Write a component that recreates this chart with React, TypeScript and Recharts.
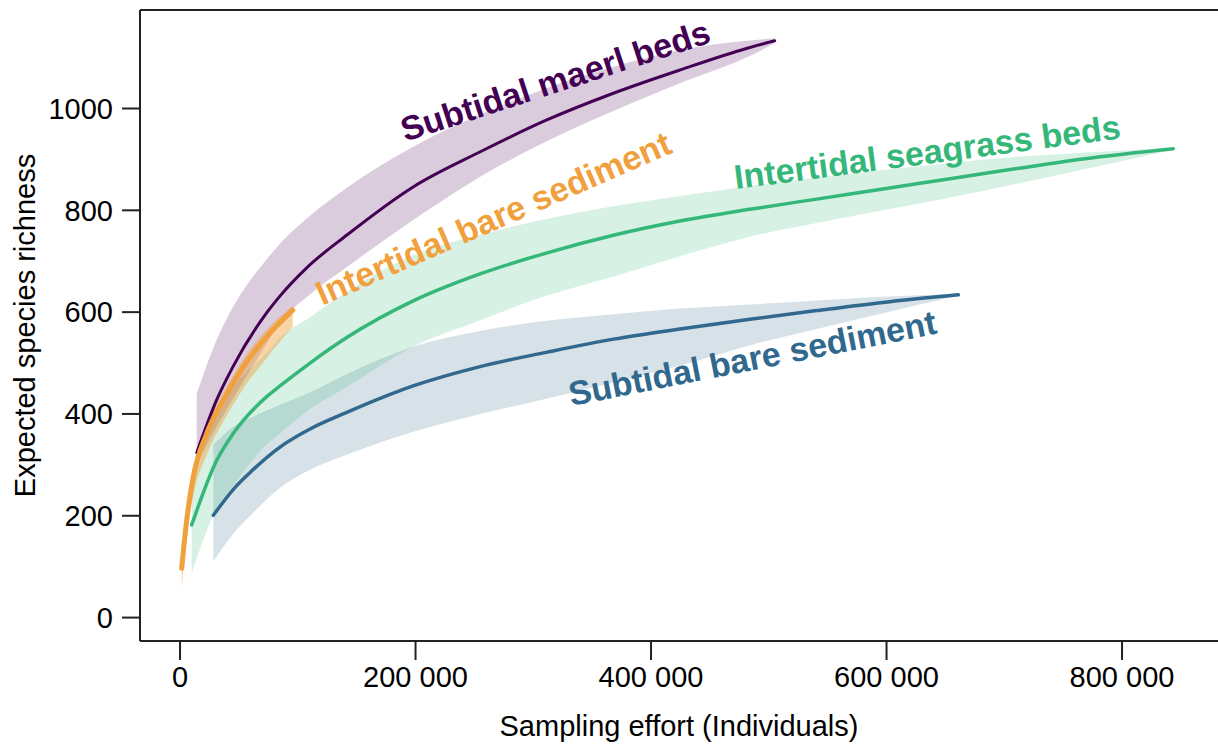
import {
  ComposedChart, Area, Line, XAxis, YAxis, ReferenceLine, ReferenceDot,
} from 'recharts';

const FONT = '"Liberation Sans", Arial, Helvetica, sans-serif';
const AXIS_COLOR = '#222';

const X_DOMAIN = [-34000, 881500];
const Y_DOMAIN = [-46, 1193.5];
const X_TICKS = [0, 200000, 400000, 600000, 800000];
const Y_TICKS = [0, 200, 400, 600, 800, 1000];

// Subtidal maerl beds
const MAERL_X = [14200, 31000, 45000, 74000, 85000, 108000, 142000, 198000, 255000, 311000, 368000, 425000, 481000, 505000];
const MAERL_Y = [324, 427, 493, 600, 632, 688, 752, 846, 915, 977, 1030, 1076, 1118, 1133];
const MAERL_HI = [440, 545, 610, 705, 735, 785, 845, 925, 988, 1040, 1082, 1115, 1133, 1138];
const MAERL_LO = [300, 375, 430, 540, 580, 630, 689, 781, 866, 935, 995, 1050, 1100, 1128];

// Intertidal seagrass beds
const SEAGRASS_X = [9900, 31200, 45300, 73600, 84900, 110400, 141600, 198000, 254800, 311000, 368000, 424600, 484000, 540700, 597000, 654000, 710600, 767000, 843600];
const SEAGRASS_Y = [182, 309, 362, 434, 455, 500, 550, 622, 675, 716, 751, 779, 802, 822, 842, 862, 882, 901, 921];
const SEAGRASS_HI = [270, 410, 455, 520, 550, 590, 640, 712, 752, 783, 808, 828, 848, 864, 879, 893, 905, 913, 923];
const SEAGRASS_LO = [87, 215, 260, 340, 362, 410, 453, 532, 584, 632, 670, 710, 748, 775, 800, 825, 852, 880, 919];

// Subtidal bare sediment
const SUB_BARE_X = [28300, 45300, 59500, 84900, 110000, 141600, 198000, 254800, 311000, 368000, 424600, 484000, 540700, 597000, 661000];
const SUB_BARE_Y = [201, 252, 285, 335, 370, 403, 455, 493, 521, 547, 567, 586, 603, 619, 634];
const SUB_BARE_HI = [340, 375, 392, 418, 442, 478, 532, 563, 583, 596, 607, 615, 623, 630, 636];
const SUB_BARE_LO = [110, 165, 200, 255, 290, 320, 365, 400, 430, 462, 495, 535, 567, 598, 632];

// Intertidal bare sediment
const INT_BARE_X = [1400, 5700, 11300, 22700, 36800, 53800, 73600, 95700];
const INT_BARE_Y = [97, 192, 277, 362, 427, 493, 552, 604];
const INT_BARE_HI = [130, 210, 292, 378, 442, 508, 566, 612];
const INT_BARE_LO = [55, 160, 240, 320, 385, 450, 510, 572];

const PURPLE = '#440154';
const GREEN = '#35b779';
const BLUE = '#31688e';
const ORANGE = '#f0a03c';

function rows(xs: number[], ys: number[], lo: number[], hi: number[]) {
  return xs.map((x, i) => ({ x, y: ys[i], band: [lo[i], hi[i]] }));
}

const maerl = rows(MAERL_X, MAERL_Y, MAERL_LO, MAERL_HI);
const seagrass = rows(SEAGRASS_X, SEAGRASS_Y, SEAGRASS_LO, SEAGRASS_HI);
const subBare = rows(SUB_BARE_X, SUB_BARE_Y, SUB_BARE_LO, SUB_BARE_HI);
const intBare = rows(INT_BARE_X, INT_BARE_Y, INT_BARE_LO, INT_BARE_HI);

// series labels: text, colour, centre (data coords), rotation
const LABELS = [
  { text: 'Subtidal maerl beds', color: PURPLE, x: 318500, y: 1055, angle: -18 },
  { text: 'Intertidal bare sediment', color: ORANGE, x: 266000, y: 785, angle: -23.6 },
  { text: 'Intertidal seagrass beds', color: GREEN, x: 634500, y: 915, angle: -7.5 },
  { text: 'Subtidal bare sediment', color: BLUE, x: 486000, y: 510, angle: -11.2 },
];

const fmt = (v: number) => String(v).replace(/\B(?=(\d{3})+(?!\d))/g, ' ');

// eslint-disable-next-line @typescript-eslint/no-explicit-any
function XTitle({ viewBox }: any) {
  const { x, y, width, height } = viewBox;
  return (
    <text x={x + width / 2} y={y + height - 10} textAnchor="middle" fontSize={29} fontFamily={FONT} fill="#000">
      Sampling effort (Individuals)
    </text>
  );
}

// eslint-disable-next-line @typescript-eslint/no-explicit-any
function YTitle({ viewBox }: any) {
  const { x, y, height } = viewBox;
  const cx = x + 35;
  const cy = y + height / 2;
  return (
    <text x={cx} y={cy} transform={`rotate(-90 ${cx} ${cy})`} textAnchor="middle" fontSize={29} fontFamily={FONT} fill="#000">
      Expected species richness
    </text>
  );
}

function series(data: ReturnType<typeof rows>, color: string, bandOpacity: number, width: number, key: string) {
  return [
    <Area
      key={key + '-band'}
      data={data}
      dataKey="band"
      type="monotone"
      stroke="none"
      fill={color}
      fillOpacity={bandOpacity}
      isAnimationActive={false}
      activeDot={false}
    />,
    <Line
      key={key + '-line'}
      data={data}
      dataKey="y"
      type="monotone"
      stroke={color}
      strokeWidth={width}
      strokeLinecap="round"
      dot={false}
      activeDot={false}
      isAnimationActive={false}
    />,
  ];
}

export default function App() {
  return (
    <div style={{ position: 'absolute', left: 0, top: 0, width: 1218, height: 746, overflow: 'hidden', background: '#fff' }}>
      <ComposedChart width={1218} height={746} margin={{ top: 10, right: 0, bottom: 0, left: 0 }}>
        <XAxis
          type="number"
          dataKey="x"
          domain={X_DOMAIN}
          ticks={X_TICKS}
          allowDataOverflow
          tickFormatter={fmt}
          height={105}
          tickSize={19}
          tickMargin={6}
          axisLine={{ stroke: AXIS_COLOR, strokeWidth: 2 }}
          tickLine={{ stroke: AXIS_COLOR, strokeWidth: 2 }}
          tick={{ fill: '#000', fontSize: 29, fontFamily: FONT }}
          label={<XTitle />}
        />
        <YAxis
          type="number"
          domain={Y_DOMAIN}
          ticks={Y_TICKS}
          allowDataOverflow
          width={140}
          tickSize={18}
          tickMargin={9}
          axisLine={{ stroke: AXIS_COLOR, strokeWidth: 2 }}
          tickLine={{ stroke: AXIS_COLOR, strokeWidth: 2 }}
          tick={{ fill: '#000', fontSize: 29, fontFamily: FONT }}
          label={<YTitle />}
        />
        <ReferenceLine y={Y_DOMAIN[1]} stroke={AXIS_COLOR} strokeWidth={2} ifOverflow="visible" />

        {series(subBare, BLUE, 0.2, 3.5, 'sub-bare')}
        {series(seagrass, GREEN, 0.2, 3.5, 'seagrass')}
        {series(maerl, PURPLE, 0.2, 3, 'maerl')}
        {series(intBare, ORANGE, 0.45, 5, 'int-bare')}

        {LABELS.map(l => (
          <ReferenceDot
            key={l.text}
            x={l.x}
            y={l.y}
            r={0}
            ifOverflow="visible"
            shape={(p: { cx?: number; cy?: number }) => (
              <text
                x={p.cx}
                y={p.cy}
                transform={`rotate(${l.angle} ${p.cx} ${p.cy})`}
                textAnchor="middle"
                dominantBaseline="central"
                fontSize={34}
                fontWeight="bold"
                fontFamily={FONT}
                fill={l.color}
              >
                {l.text}
              </text>
            )}
          />
        ))}
      </ComposedChart>
    </div>
  );
}
